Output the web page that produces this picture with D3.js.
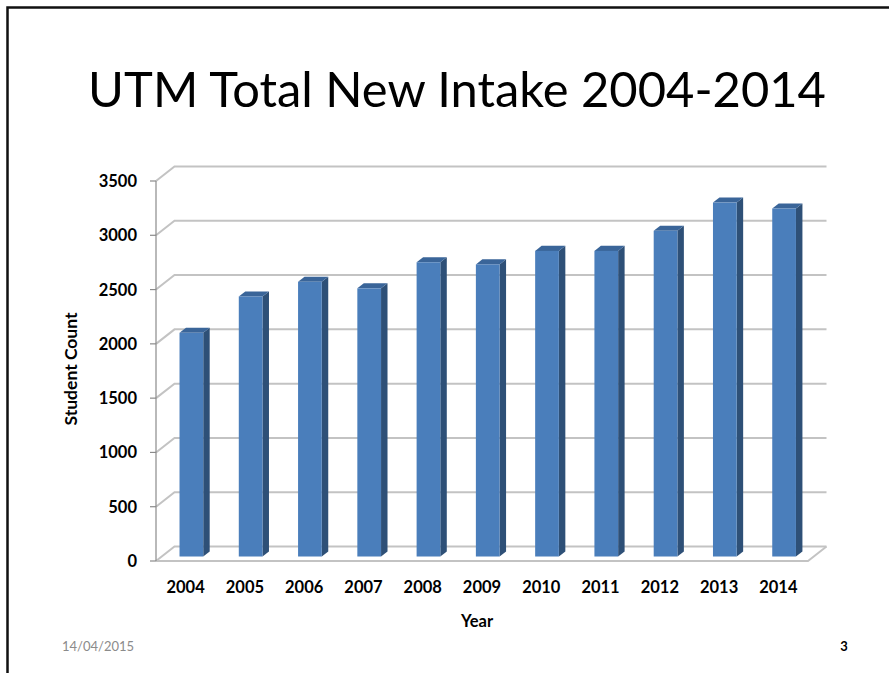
<!DOCTYPE html>
<html>
<head>
<meta charset="utf-8">
<script src="https://cdn.jsdelivr.net/npm/d3@7"></script>
<style>
  body { margin: 0; background: #fff; }
  svg text { font-family: Lato, "Open Sans", sans-serif; }
</style>
</head>
<body>
<script>
// data
let years = ['2004','2005','2006','2007','2008','2009','2010','2011','2012','2013','2014'];
let intake = [2060, 2395, 2530, 2470, 2710, 2690, 2815, 2815, 3000, 3260, 3205];
let yTicks = [0, 500, 1000, 1500, 2000, 2500, 3000, 3500];

let svgWidth = 889;
let svgHeight = 673;

// front plane of the 3d box + the depth vector
let plot = { left: 156, right: 808, top: 181, bottom: 561 };
let depth = { dx: 18.5, dy: -14.5 };
let barFront = 0.31;   // where the bar front face sits in the depth
let barDepth = 0.35;   // how deep a bar is

let svg = d3.select('body')
  .append('svg')
  .attr('width', svgWidth)
  .attr('height', svgHeight);

// slide frame
svg.append('path')
  .attr('d', 'M7.5,' + svgHeight + ' V7.5 H' + svgWidth)
  .attr('fill', 'none')
  .attr('stroke', '#111')
  .attr('stroke-width', 2.5);

// title
let title = svg.append('text')
  .attr('x', 457)
  .attr('y', 107)
  .attr('text-anchor', 'middle')
  .style('font-size', '48px')
  .style('fill', '#000')
  .text('UTM Total New Intake 2004-2014');
// squeeze to the width of the original title
let tw = title.node().getComputedTextLength();
title.style('font-size', (48 * 738 / tw) + 'px');

let xScale = d3.scaleBand()
  .domain(years)
  .range([plot.left, plot.right]);

let yScale = d3.scaleLinear()
  .domain([0, 3500])
  .range([plot.bottom, plot.top]);

let g = svg.append('g');

// back wall gridlines + left wall diagonals
g.selectAll('.grid')
  .data(yTicks)
  .enter()
  .append('path')
    .attr('class', 'grid')
    .attr('d', d => 'M' + plot.left + ',' + yScale(d) +
                    ' L' + (plot.left + depth.dx) + ',' + (yScale(d) + depth.dy) +
                    ' H' + (plot.right + depth.dx))
    .attr('fill', 'none')
    .attr('stroke', '#c3c3c3')
    .attr('stroke-width', 2);

// floor front edge and right edge
g.append('path')
  .attr('d', 'M' + plot.left + ',' + plot.bottom + ' H' + plot.right +
             ' L' + (plot.right + depth.dx) + ',' + (plot.bottom + depth.dy))
  .attr('fill', 'none')
  .attr('stroke', '#c3c3c3')
  .attr('stroke-width', 2);

// value axis line and ticks
g.append('line')
  .attr('x1', plot.left).attr('x2', plot.left)
  .attr('y1', yScale(3500)).attr('y2', yScale(0))
  .attr('stroke', '#8a8a8a')
  .attr('stroke-width', 1.2);

g.selectAll('.tick')
  .data(yTicks)
  .enter()
  .append('line')
    .attr('class', 'tick')
    .attr('x1', plot.left - 6).attr('x2', plot.left)
    .attr('y1', d => yScale(d)).attr('y2', d => yScale(d))
    .attr('stroke', '#8a8a8a')
    .attr('stroke-width', 1.2);

g.selectAll('.ylab')
  .data(yTicks)
  .enter()
  .append('text')
    .attr('class', 'ylab')
    .attr('x', 137)
    .attr('y', d => yScale(d))
    .attr('dy', '0.36em')
    .attr('text-anchor', 'end')
    .style('font-size', '16.5px')
    .style('font-weight', 'bold')
    .text(d => d);

// bars
let bw = xScale.bandwidth() * 0.4;
let fx = barFront * depth.dx, fy = barFront * depth.dy;
let bdx = barDepth * depth.dx, bdy = barDepth * depth.dy;

let barData = years.map((y, i) => ({ year: y, value: intake[i] }));

let bars = g.selectAll('.bar')
  .data(barData)
  .enter()
  .append('g')
    .attr('class', 'bar');

function x0(d) { return xScale(d.year) + xScale.bandwidth() / 2 - bw / 2 + fx; }
function yTop(d) { return yScale(d.value) + fy; }
function yBase() { return yScale(0) + fy; }

// right side face
bars.append('path')
  .attr('d', d => {
    let x = x0(d) + bw;
    return 'M' + x + ',' + yTop(d) + ' L' + x + ',' + yBase() +
           ' L' + (x + bdx) + ',' + (yBase() + bdy) +
           ' L' + (x + bdx) + ',' + (yTop(d) + bdy) + ' Z';
  })
  .attr('fill', '#2e5077');

// top face
bars.append('path')
  .attr('d', d => {
    let x = x0(d);
    return 'M' + x + ',' + yTop(d) + ' L' + (x + bw) + ',' + yTop(d) +
           ' L' + (x + bw + bdx) + ',' + (yTop(d) + bdy) +
           ' L' + (x + bdx) + ',' + (yTop(d) + bdy) + ' Z';
  })
  .attr('fill', '#3a6599');

// front face
bars.append('rect')
  .attr('x', d => x0(d))
  .attr('y', d => yTop(d))
  .attr('width', bw)
  .attr('height', d => yBase() - yTop(d))
  .attr('fill', '#4a7ebb');

// category labels
g.selectAll('.xlab')
  .data(years)
  .enter()
  .append('text')
    .attr('class', 'xlab')
    .attr('x', d => xScale(d) + xScale.bandwidth() / 2)
    .attr('y', 593)
    .attr('text-anchor', 'middle')
    .style('font-size', '16.5px')
    .style('font-weight', 'bold')
    .text(d => d);

// axis titles
svg.append('text')
  .attr('x', 477)
  .attr('y', 627)
  .attr('text-anchor', 'middle')
  .style('font-size', '16.5px')
  .style('font-weight', 'bold')
  .text('Year');

svg.append('text')
  .attr('transform', 'translate(77,369) rotate(-90)')
  .attr('text-anchor', 'middle')
  .style('font-size', '17.5px')
  .style('font-weight', 'bold')
  .text('Student Count');

// footer
svg.append('text')
  .attr('x', 62)
  .attr('y', 651)
  .style('font-size', '13px')
  .style('fill', '#8b8b8b')
  .text('14/04/2015');

svg.append('text')
  .attr('x', 844)
  .attr('y', 651)
  .attr('text-anchor', 'middle')
  .style('font-size', '13px')
  .style('font-weight', 'bold')
  .text('3');
</script>
</body>
</html>
